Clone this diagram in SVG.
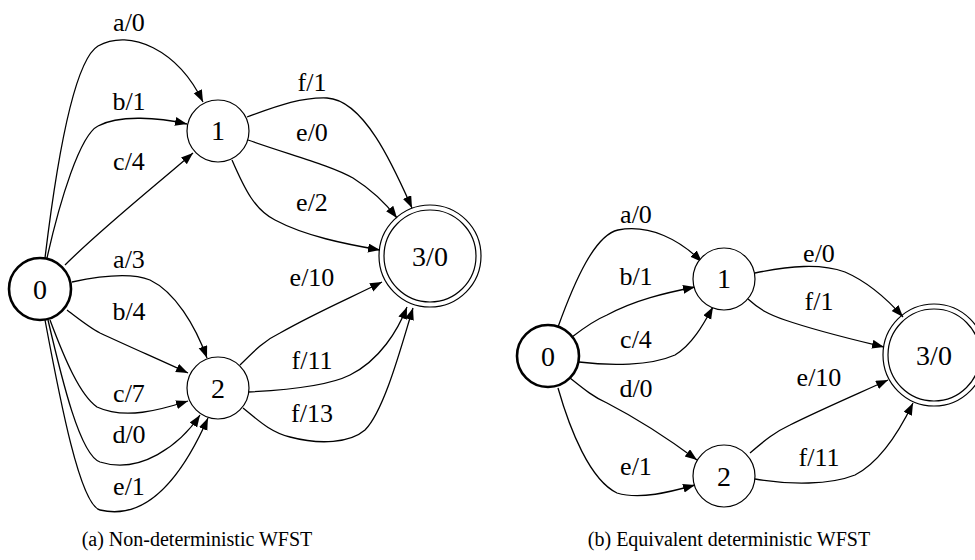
<svg xmlns="http://www.w3.org/2000/svg" width="975" height="560" viewBox="0 0 975 560">
  <style>
    .edge { fill: none; stroke: #000; stroke-width: 1.3; marker-end: url(#arrow); }
    .state { fill: #fff; stroke: #000; stroke-width: 1.2; }
    .start { fill: #fff; stroke: #000; stroke-width: 2.6; }
    .final { fill: none; stroke: #000; stroke-width: 1.2; }
    .nlabel { font-size: 28px; text-anchor: middle; fill: #000; }
    .elabel { font-size: 26px; text-anchor: middle; fill: #000; }
    .caption { font-size: 20px; text-anchor: middle; fill: #000; }
  </style>
  <defs>
    <marker id="arrow" markerUnits="userSpaceOnUse" markerWidth="13" markerHeight="10" refX="12" refY="4.5" orient="auto">
      <path d="M0,0 L12,4.5 L0,9 z" fill="#000"/>
    </marker>
  </defs>
  <rect width="975" height="560" fill="#fff"/>

  <g font-family="'Liberation Serif', 'DejaVu Serif', serif">
  <!-- (a) non-deterministic transducer: transitions -->
  <g id="edges-a">
    <path class="edge" d="M45,258 C58,150 75,60 98,46 C130,28 178,50 203,102"/>
    <path class="edge" d="M47,258 C60,200 80,135 98,126 C120,114 160,118 187,124"/>
    <path class="edge" d="M65,265 C100,230 150,190 193,153"/>
    <path class="edge" d="M72,282 C100,276 130,272 150,280 C175,292 195,325 207,358"/>
    <path class="edge" d="M67,310 C80,320 90,328 100,333 C130,347 160,360 188,373"/>
    <path class="edge" d="M50,320 C65,360 80,395 97,407 C125,420 160,410 188,401"/>
    <path class="edge" d="M48,320 C62,380 80,455 100,462 C140,475 180,445 200,415"/>
    <path class="edge" d="M45,320 C60,400 80,505 100,510 C150,522 185,470 208,418"/>
    <path class="edge" d="M247,117 C275,107 300,97 327,98 C365,100 395,170 412,208"/>
    <path class="edge" d="M248,140 C290,155 330,165 353,178 C372,190 387,205 397,218"/>
    <path class="edge" d="M232,160 C245,190 255,210 275,220 C305,236 345,244 380,250"/>
    <path class="edge" d="M240,365 C255,350 265,340 280,333 C315,313 350,298 382,282"/>
    <path class="edge" d="M248,392 C290,390 330,385 350,375 C380,360 398,330 407,307"/>
    <path class="edge" d="M243,408 C258,420 270,432 290,437 C320,445 350,443 365,430 C385,410 403,340 413,308"/>
  </g>
  <g id="labels-a">
    <text class="elabel" x="129" y="31">a/0</text>
    <text class="elabel" x="129" y="110">b/1</text>
    <text class="elabel" x="129" y="170">c/4</text>
    <text class="elabel" x="129" y="268">a/3</text>
    <text class="elabel" x="129" y="320">b/4</text>
    <text class="elabel" x="129" y="402">c/7</text>
    <text class="elabel" x="129" y="443">d/0</text>
    <text class="elabel" x="129" y="495">e/1</text>
    <text class="elabel" x="312" y="91">f/1</text>
    <text class="elabel" x="312" y="141">e/0</text>
    <text class="elabel" x="312" y="211">e/2</text>
    <text class="elabel" x="312" y="286">e/10</text>
    <text class="elabel" x="312" y="369">f/11</text>
    <text class="elabel" x="312" y="422">f/13</text>
  </g>
  <g id="a-q0">
    <circle class="start" cx="40" cy="289" r="31"/>
    <text class="nlabel" x="40" y="299">0</text>
  </g>
  <g id="a-q1">
    <circle class="state" cx="218" cy="131" r="31"/>
    <text class="nlabel" x="218" y="140">1</text>
  </g>
  <g id="a-q2">
    <circle class="state" cx="218" cy="388" r="31"/>
    <text class="nlabel" x="218" y="398">2</text>
  </g>
  <g id="a-q3">
    <circle class="final" cx="430" cy="256" r="51"/>
    <circle class="final" cx="430" cy="256" r="46"/>
    <text class="nlabel" x="430" y="266">3/0</text>
  </g>

  <!-- (b) deterministic transducer: transitions -->
  <g id="edges-b">
    <path class="edge" d="M558,327 C575,280 595,235 618,230 C650,224 680,240 702,262"/>
    <path class="edge" d="M572,337 C585,327 595,320 607,315 C635,300 665,293 695,287"/>
    <path class="edge" d="M579,362 C610,366 650,366 675,355 C692,345 703,325 713,307"/>
    <path class="edge" d="M570,378 C585,390 595,398 607,403 C640,420 670,440 697,460"/>
    <path class="edge" d="M558,388 C570,430 590,480 617,493 C640,500 670,492 695,485"/>
    <path class="edge" d="M755,273 C790,266 820,263 845,272 C868,282 888,300 903,317"/>
    <path class="edge" d="M748,299 C760,310 770,315 785,320 C820,332 855,340 884,347"/>
    <path class="edge" d="M750,453 C765,440 775,432 790,425 C820,410 855,395 888,380"/>
    <path class="edge" d="M755,479 C790,485 830,485 855,475 C880,462 900,430 913,403"/>
  </g>
  <g id="labels-b">
    <text class="elabel" x="636" y="223">a/0</text>
    <text class="elabel" x="636" y="285">b/1</text>
    <text class="elabel" x="636" y="348">c/4</text>
    <text class="elabel" x="636" y="397">d/0</text>
    <text class="elabel" x="636" y="475">e/1</text>
    <text class="elabel" x="819" y="262">e/0</text>
    <text class="elabel" x="819" y="310">f/1</text>
    <text class="elabel" x="819" y="386">e/10</text>
    <text class="elabel" x="819" y="466">f/11</text>
  </g>
  <g id="b-q0">
    <circle class="start" cx="548" cy="356" r="31"/>
    <text class="nlabel" x="548" y="366">0</text>
  </g>
  <g id="b-q1">
    <circle class="state" cx="724" cy="279" r="31"/>
    <text class="nlabel" x="724" y="288">1</text>
  </g>
  <g id="b-q2">
    <circle class="state" cx="724" cy="476" r="31"/>
    <text class="nlabel" x="724" y="486">2</text>
  </g>
  <g id="b-q3">
    <circle class="final" cx="934" cy="355" r="51"/>
    <circle class="final" cx="934" cy="355" r="46"/>
    <text class="nlabel" x="934" y="365">3/0</text>
  </g>

  <g id="captions">
    <text class="caption" x="197" y="546">(a) Non-deterministic WFST</text>
    <text class="caption" x="729" y="546">(b) Equivalent deterministic WFST</text>
  </g>
  </g>
</svg>
